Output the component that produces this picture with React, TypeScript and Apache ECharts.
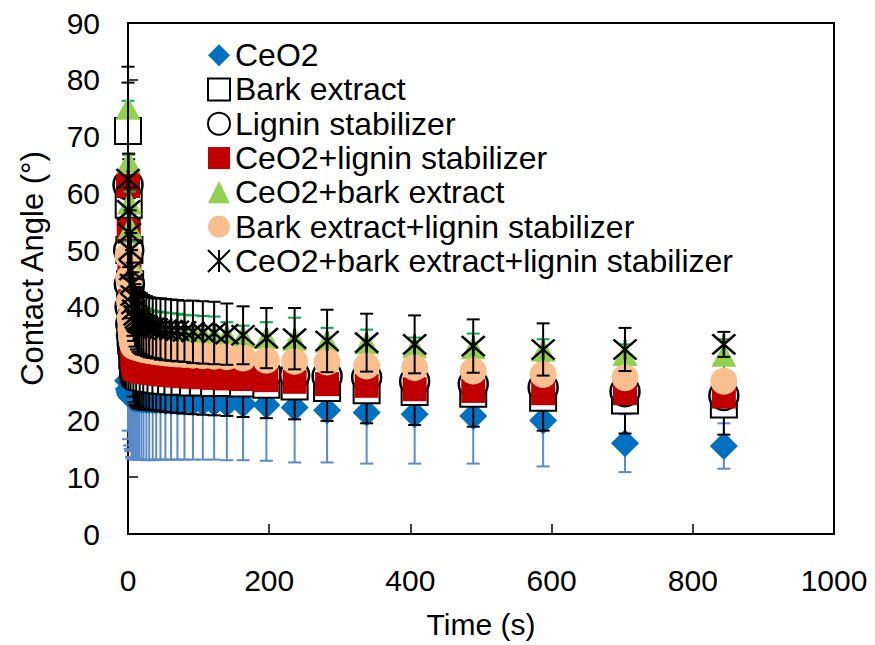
import React, { useEffect, useRef } from "react";
import * as echarts from "echarts";

// Time points (s)
const times = [0, 1, 2, 3, 4, 5, 6, 7, 8, 10, 12, 14, 16, 19, 22, 26, 30, 35, 40, 46, 53, 61, 70, 80, 92, 106, 122, 140, 163, 196, 236, 282, 338, 406, 489, 588, 704, 844];

const seriesNames = [
  "CeO2",
  "Bark extract",
  "Lignin stabilizer",
  "CeO2+lignin stabilizer",
  "CeO2+bark extract",
  "Bark extract+lignin stabilizer",
  "CeO2+bark extract+lignin stabilizer",
];

const ceo2 = [27, 25.5, 25, 24.6, 24.4, 24.2, 24.1, 24, 24, 23.9, 23.9, 23.8, 23.8, 23.7, 23.7, 23.6, 23.6, 23.5, 23.5, 23.5, 23.4, 23.4, 23.3, 23.3, 23.2, 23.2, 23.1, 23.0, 22.9, 22.7, 22.3, 21.8, 21.4, 21.1, 20.8, 20.0, 16.0, 15.5];
const ceo2Err = [8.8, 8.8, 9.4, 9.6, 9.8, 10.6, 10.8, 10.8, 10.8, 10.8, 10.7, 10.7, 10.7, 10.6, 10.6, 10.6, 10.5, 10.5, 10.4, 10.4, 10.3, 10.3, 10.2, 10.2, 10.1, 10.1, 10.0, 10.0, 9.9, 9.8, 9.7, 9.2, 9.0, 8.7, 8.4, 8.1, 5.1, 4.0];

const bark = [71, 58, 50, 44, 38, 34, 31.5, 30, 29, 28.5, 28.2, 28.0, 27.8, 27.7, 27.6, 27.5, 27.4, 27.3, 27.2, 27.1, 27.0, 26.9, 26.8, 26.8, 26.7, 26.7, 26.6, 26.6, 26.5, 26.3, 26.0, 25.7, 25.3, 25.0, 24.7, 24.0, 23.5, 22.8];
const barkErr = [11.3, 8, 7, 6.5, 6.2, 6, 5.9, 5.8, 5.8, 5.8, 5.8, 5.8, 5.8, 5.7, 5.7, 5.6, 5.6, 5.5, 5.5, 5.5, 5.5, 5.5, 5.5, 5.6, 5.6, 5.7, 5.7, 5.8, 5.9, 5.9, 5.8, 5.8, 5.8, 5.8, 5.8, 5.8, 5.8, 5.3];

const lignin = [61.5, 50, 44, 40, 37, 35, 33.5, 32.5, 31.8, 31.2, 30.8, 30.5, 30.3, 30.1, 29.9, 29.8, 29.6, 29.5, 29.4, 29.3, 29.2, 29.1, 29.0, 28.9, 28.8, 28.7, 28.6, 28.5, 28.4, 28.2, 28.0, 27.8, 27.6, 26.9, 26.4, 25.8, 25.1, 24.4];

const ceo2Lignin = [61.3, 53.5, 47, 41, 36.5, 33.5, 31.5, 30.3, 29.6, 29.2, 29.0, 28.9, 28.8, 28.7, 28.6, 28.6, 28.5, 28.4, 28.3, 28.2, 28.1, 28.0, 27.9, 27.8, 27.7, 27.6, 27.5, 27.4, 27.3, 27.1, 26.8, 26.4, 26.1, 25.5, 25.2, 24.8, 24.8, 24.2];

const ceo2Bark = [75, 65.5, 58.3, 54, 48, 44, 41.5, 40, 39, 38, 37.5, 37, 36.8, 36.6, 36.4, 36.2, 36.0, 35.9, 35.8, 35.7, 35.6, 35.5, 35.4, 35.3, 35.2, 35.1, 35.0, 34.9, 34.8, 34.6, 34.3, 34.0, 33.7, 33.0, 32.8, 32.4, 31.6, 31.5];
const ceo2BarkErr = [1.3, 1.3, 2, 2.5, 3, 3, 3.2, 3.3, 3.4, 3.4, 3.4, 3.5, 3.5, 3.5, 3.5, 3.5, 3.4, 3.4, 3.4, 3.4, 3.4, 3.4, 3.4, 3.3, 3.3, 3.3, 3.3, 2.4, 1.9, 2.7, 3.8, 2.3, 2.3, 1.6, 2.5, 1.9, 1.8, 2.8];

const barkLignin = [49, 45, 41, 38, 36, 34.5, 33.8, 33.3, 33, 33.0, 32.9, 32.8, 32.7, 32.6, 32.5, 32.4, 32.3, 32.2, 32.1, 32.0, 31.9, 31.8, 31.7, 31.6, 31.5, 31.4, 31.3, 31.2, 31.0, 30.6, 30.4, 30.3, 29.6, 29.3, 28.7, 28.1, 27.5, 26.9];

const allThree = [62.5, 57, 53, 50, 46.5, 44, 42, 40.5, 39.5, 38.5, 38, 37.5, 37.2, 37, 36.8, 36.6, 36.4, 36.3, 36.2, 36.1, 36.0, 35.9, 35.8, 35.7, 35.6, 35.5, 35.4, 35.2, 35.0, 34.5, 34.4, 34.0, 33.7, 33.4, 33.1, 32.5, 32.5, 33.4];
const allThreeErr = [17, 10, 8, 7, 6.5, 6, 5.8, 5.6, 5.5, 5.5, 5.5, 5.4, 5.4, 5.4, 5.3, 5.3, 5.3, 5.3, 5.3, 5.4, 5.4, 5.4, 5.4, 5.4, 5.5, 5.5, 5.5, 5.4, 5.1, 5.3, 5.4, 5.5, 5.1, 5.1, 4.7, 4.6, 3.8, 2.2];

const xTicks = [0, 200, 400, 600, 800, 1000];
const yTicks = [0, 10, 20, 30, 40, 50, 60, 70, 80, 90];

const FONT = "'Liberation Sans', Arial, sans-serif";
const ASTERISK = "path://M0,0L20,20M20,0L0,20M10,0L10,20";

const pts = (vals: number[]) => times.map((t, i) => [t, vals[i]]);
const errPts = (vals: number[], errs: number[]) =>
  times.map((t, i) => [t, vals[i] - errs[i], vals[i] + errs[i]]);

function errorSeries(name: string, vals: number[], errs: number[], color: string, z: number) {
  return {
    type: "custom",
    name,
    z,
    silent: true,
    clip: false,
    encode: { x: 0, y: [1, 2] },
    data: errPts(vals, errs),
    renderItem: (_p: any, api: any) => {
      const x = api.value(0);
      const lo = api.coord([x, api.value(1)]);
      const hi = api.coord([x, api.value(2)]);
      const cap = 6.5;
      const style = { stroke: color, lineWidth: 2, fill: "none" };
      return {
        type: "group",
        children: [
          { type: "line", shape: { x1: lo[0], y1: lo[1], x2: hi[0], y2: hi[1] }, style },
          { type: "line", shape: { x1: lo[0] - cap, y1: lo[1], x2: lo[0] + cap, y2: lo[1] }, style },
          { type: "line", shape: { x1: hi[0] - cap, y1: hi[1], x2: hi[0] + cap, y2: hi[1] }, style },
        ],
      };
    },
  };
}

export default function App() {
  const ref = useRef<HTMLDivElement>(null);
  useEffect(() => {
    if (!ref.current) return;
    const chart = echarts.init(ref.current, undefined, { renderer: "svg" });
    const option: any = {
      animation: false,
      backgroundColor: "#fff",
      textStyle: { fontFamily: FONT },
      grid: {
        left: 128,
        right: 41,
        top: 23,
        bottom: 111,
        show: true,
        borderColor: "#000",
        borderWidth: 2,
        backgroundColor: "transparent",
      },
      legend: {
        orient: "vertical",
        left: 207,
        top: 38,
        padding: 0,
        itemWidth: 22,
        itemHeight: 22,
        itemGap: 0,
        selectedMode: false,
        data: seriesNames,
        textStyle: { fontSize: 32, color: "#000", fontFamily: FONT, lineHeight: 34.3 },
      },
      xAxis: {
        type: "value",
        min: xTicks[0],
        max: xTicks[xTicks.length - 1],
        interval: 200,
        name: "Time (s)",
        nameLocation: "middle",
        nameGap: 75,
        nameTextStyle: { fontSize: 30, color: "#000", fontFamily: FONT },
        axisLine: { show: true, onZero: false, lineStyle: { color: "#000", width: 2 } },
        axisTick: { show: true, inside: true, length: 10, lineStyle: { color: "#000", width: 1.5 } },
        axisLabel: { fontSize: 30, color: "#000", margin: 31, fontFamily: FONT, formatter: (v: number) => String(v) },
        splitLine: { show: false },
      },
      yAxis: {
        type: "value",
        min: yTicks[0],
        max: yTicks[yTicks.length - 1],
        interval: 10,
        name: "Contact Angle (°)",
        nameLocation: "middle",
        nameGap: 80,
        nameTextStyle: { fontSize: 31, color: "#000", fontFamily: FONT, padding: [0, 0, 0, 20] },
        axisLine: { show: true, onZero: false, lineStyle: { color: "#000", width: 2 } },
        axisTick: { show: true, inside: true, length: 10, lineStyle: { color: "#000", width: 1.5 } },
        axisLabel: { fontSize: 30, color: "#000", margin: 28, fontFamily: FONT, formatter: (v: number) => String(v) },
        splitLine: { show: false },
      },
      series: [
        errorSeries("CeO2 err", ceo2, ceo2Err, "#5B8BC8", 10),
        {
          type: "scatter", name: seriesNames[0], z: 11, data: pts(ceo2),
          symbol: "diamond", symbolSize: 28,
          itemStyle: { color: "#0070C0", opacity: 1 },
        },
        errorSeries("Bark err", bark, barkErr, "#000", 12),
        {
          type: "scatter", name: seriesNames[1], z: 13, data: pts(bark),
          symbol: "rect", symbolSize: 26,
          itemStyle: { color: "#fff", borderColor: "#000", borderWidth: 2, opacity: 1 },
        },
        {
          type: "scatter", name: seriesNames[2], z: 15, data: pts(lignin),
          symbol: "circle", symbolSize: 29,
          itemStyle: { color: "#fff", borderColor: "#000", borderWidth: 2.5, opacity: 1 },
        },
        {
          type: "scatter", name: seriesNames[3], z: 17, data: pts(ceo2Lignin),
          symbol: "rect", symbolSize: 24,
          itemStyle: { color: "#C00000", opacity: 1 },
        },
        errorSeries("CeO2+bark err", ceo2Bark, ceo2BarkErr, "#00B050", 18),
        {
          type: "scatter", name: seriesNames[4], z: 19, data: pts(ceo2Bark),
          symbol: "triangle", symbolSize: [25, 23],
          itemStyle: { color: "#92D050", opacity: 1 },
        },
        {
          type: "scatter", name: seriesNames[5], z: 21, data: pts(barkLignin),
          symbol: "circle", symbolSize: 27,
          itemStyle: { color: "#FABF8F", opacity: 1 },
        },
        errorSeries("All err", allThree, allThreeErr, "#000", 22),
        {
          type: "scatter", name: seriesNames[6], z: 23, data: pts(allThree),
          symbol: ASTERISK, symbolSize: [23, 20],
          itemStyle: { color: "#000", borderColor: "#000", borderWidth: 2.5, opacity: 1 },
        },
      ],
    };
    chart.setOption(option);
    return () => chart.dispose();
  }, []);
  return (
    <div
      ref={ref}
      style={{ position: "fixed", left: 0, top: 0, width: 875, height: 645, background: "#fff" }}
    />
  );
}
